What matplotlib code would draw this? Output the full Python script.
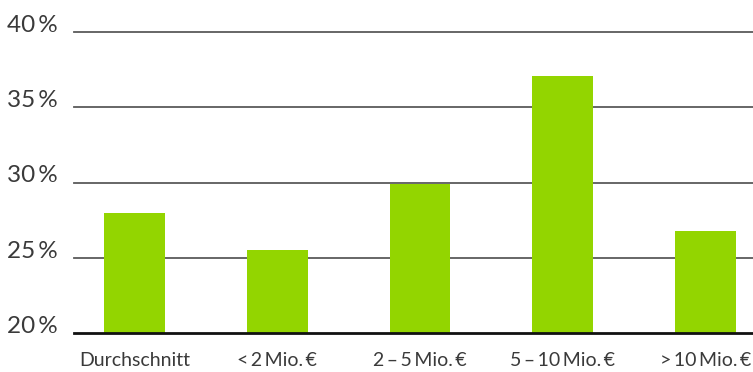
import matplotlib
matplotlib.use("Agg")
import matplotlib.pyplot as plt

categories = ["Durchschnitt", "<\u20092\u2009Mio.\u2009€", "2\u2009–\u20095\u2009Mio.\u2009€",
              "5\u2009–\u200910\u2009Mio.\u2009€", ">\u200910\u2009Mio.\u2009€"]
values = [28.0, 25.5, 29.9, 37.1, 26.8]
y_ticks = [20, 25, 30, 35, 40]
y_labels = ["20\u2009%", "25\u2009%", "30\u2009%", "35\u2009%", "40\u2009%"]

plt.rcParams["font.family"] = ["Lato", "DejaVu Sans"]

W, H = 753, 372
fig = plt.figure(figsize=(W / 100, H / 100), dpi=100)
ax = fig.add_axes([74 / W, (H - 333) / H, (W - 74) / W, (333 - 32) / H])

x = list(range(len(categories)))
ax.set_xlim(-0.424, 4.333)
ax.set_ylim(20, 40)

for t in y_ticks[1:]:
    ax.axhline(t, color="#5a5a5a", lw=1.3, zorder=1, clip_on=False)
ax.axhline(20, color="#111111", lw=2.0, zorder=3, clip_on=False)

ax.bar(x, [v - 20 for v in values], bottom=20, width=0.427, color="#93d500", zorder=2)

for s in ax.spines.values():
    s.set_visible(False)
ax.set_xticks([])
ax.set_yticks([])

for t, lab in zip(y_ticks, y_labels):
    ax.text(-0.424 - 16 / 142.75, t, lab, ha="right", va="baseline",
            fontsize=17.5, fontweight="normal", color="#3a3a3a", clip_on=False,
            transform=ax.transData)

for xi, lab in zip(x, categories):
    ax.annotate(lab, xy=(xi, 20), xycoords="data", xytext=(0, -20),
                textcoords="offset points", ha="center", va="center",
                fontsize=14, fontweight="normal", color="#3a3a3a")

fig.savefig("out.png", dpi=100)
